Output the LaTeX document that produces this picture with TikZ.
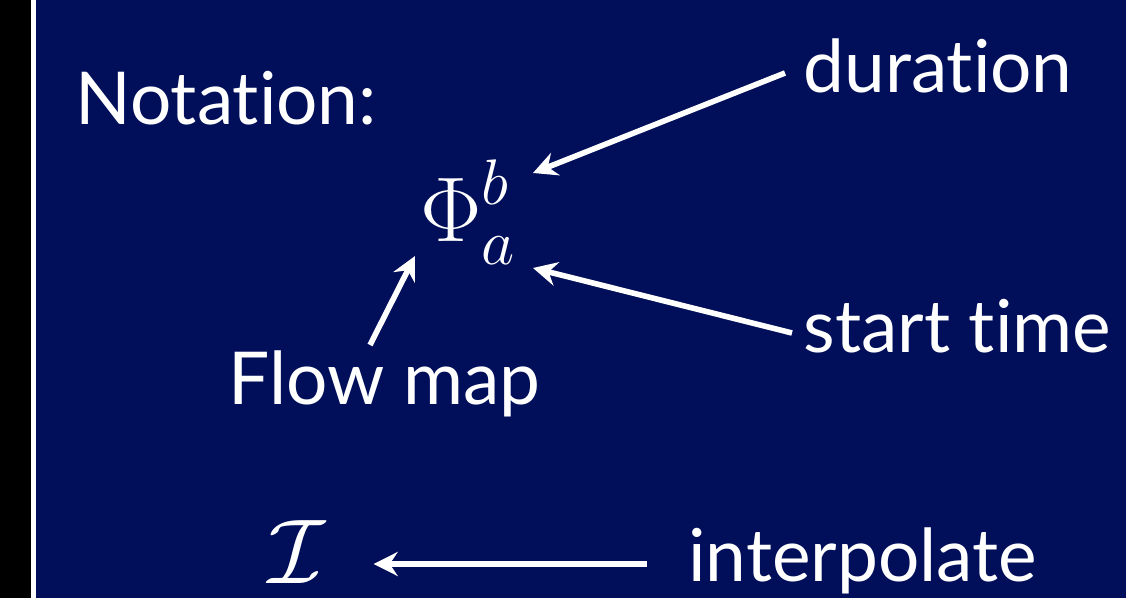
\RequirePackage{fix-cm}
\documentclass[tikz,border=0pt]{standalone}
\usepackage{fontspec}
\setmainfont{Lato}[Ligatures={NoCommon,NoRequired,NoContextual}]
\usepackage{amsmath,amssymb}
\usepackage{tikz}
\usetikzlibrary{arrows.meta,positioning,calc}
\usepackage{xcolor}
\DeclareMathSizes{46}{46}{32.2}{23}
\definecolor{deep}{RGB}{1,14,90}
\definecolor{edge}{RGB}{0,0,0}
\tikzset{
  txt/.style={text=white,inner sep=0pt,anchor=base west,
    font=\fontsize{36.5}{44}\selectfont},
  mth/.style={text=white,inner sep=0pt,anchor=base west,
    font=\fontsize{46}{54}\selectfont},
  arr/.style={-{Stealth[length=12pt,width=12pt,inset=4pt]},line width=2.8pt,white},
}

\begin{document}
\begin{tikzpicture}[x=0.5pt,y=-0.5pt]
  \useasboundingbox (0,0) rectangle (1126,598);
  % backdrop
  \fill[deep] (36,0) rectangle (1126,598);
  \fill[edge] (0,0) rectangle (31,598);
  \fill[white] (31,0) rectangle (36,598);
  % flow map notation
  \node[txt] (notation) at (75,125) {Notation:};
  \node[mth] (phi) at (420,242) {$\displaystyle\Phi^b_a$};
  \node[txt] (dur) at (803,93) {duration};
  \node[txt] (start) at (803,353) {start time};
  \node[txt] (flow) at (228,405) {Flow map};
  \coordinate (btip) at ([shift={(113,-69)}]phi.base west);
  \coordinate (atip) at ([shift={(113,26)}]phi.base west);
  \coordinate (ftip) at ([shift={(-5,14)}]phi.base west);
  \draw[arr] ([shift={(-18,-20)}]dur.base west) -- (btip);
  \draw[arr] ([shift={(-11,-20)}]start.base west) -- (atip);
  \draw[arr] ([shift={(142,-60)}]flow.base west) -- (ftip);
  % interpolation
  \node[mth] (interp) at (268,584) {$\mathcal{I}$};
  \node[txt] (word) at (688,582) {interpolate};
  \draw[arr] ([shift={(-41,-18)}]word.base west) -- ([shift={(48,-20)}]interp.base east);
\end{tikzpicture}
\end{document}
